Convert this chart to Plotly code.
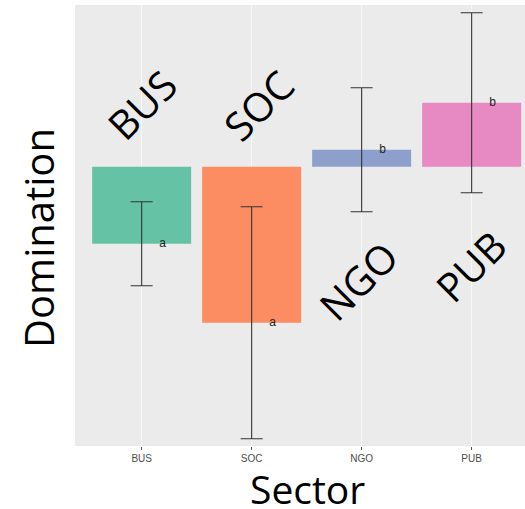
import plotly.graph_objects as go

# Sector means of domination (relative to the reference level) and their error half-widths
sectors = ["BUS", "SOC", "NGO", "PUB"]
means = [-0.385, -0.78, 0.085, 0.32]
errors = [0.21, 0.58, 0.31, 0.45]
groups = ["a", "a", "b", "b"]
colors = ["#66c2a5", "#fc8d62", "#8da0cb", "#e78ac3"]

xpos = list(range(len(sectors)))

fig = go.Figure()

fig.add_trace(go.Bar(
    x=xpos,
    y=means,
    base=0,
    width=0.9,
    marker=dict(color=colors, line=dict(width=0)),
    error_y=dict(type="data", array=errors, visible=True,
                 color="#333333", thickness=1.1, width=11),
    showlegend=False,
    hoverinfo="skip",
))

# significance-group letters beside each mean
fig.add_trace(go.Scatter(
    x=[p + 0.19 for p in xpos],
    y=means,
    mode="text",
    text=groups,
    textposition="middle center",
    textfont=dict(family="Arial", size=12, color="#222222"),
    showlegend=False,
    hoverinfo="skip",
))

# large diagonal sector labels
label_pos = [(0.0, 0.313), (1.057, 0.308), (1.97, -0.569), (2.985, -0.497)]
annotations = []
for name, (lx, ly) in zip(sectors, label_pos):
    annotations.append(dict(
        x=lx, y=ly, xref="x", yref="y", text=name, showarrow=False,
        textangle=-45, xanchor="center", yanchor="middle",
        font=dict(family="Open Sans", size=40, color="black"),
    ))

annotations.append(dict(
    x=-0.08, y=0.4717, xref="paper", yref="paper", text="Domination",
    showarrow=False, textangle=-90, xanchor="center", yanchor="middle",
    font=dict(family="Open Sans", size=40, color="black"),
))
annotations.append(dict(
    x=0.5156, y=-0.095, xref="paper", yref="paper", text="Sector",
    showarrow=False, xanchor="center", yanchor="middle",
    height=40, valign="middle",
    font=dict(family="Open Sans", size=39, color="black"),
))

fig.update_layout(
    width=525, height=509,
    margin=dict(l=75, r=0, t=5, b=63),
    paper_bgcolor="white",
    plot_bgcolor="#EBEBEB",
    annotations=annotations,
    xaxis=dict(
        range=[-0.606, 3.485],
        tickmode="array", tickvals=xpos, ticktext=sectors,
        showgrid=True, gridcolor="#F7F7F7", gridwidth=1,
        zeroline=False, showline=False,
        ticks="outside", ticklen=3, tickcolor="#555555", tickwidth=1,
        tickfont=dict(family="Arial", size=10, color="#4d4d4d"),
    ),
    yaxis=dict(
        range=[-1.3965, 0.8085],
        showgrid=False, zeroline=False, showline=False,
        showticklabels=False, ticks="",
    ),
)

fig.write_html("out.html")
